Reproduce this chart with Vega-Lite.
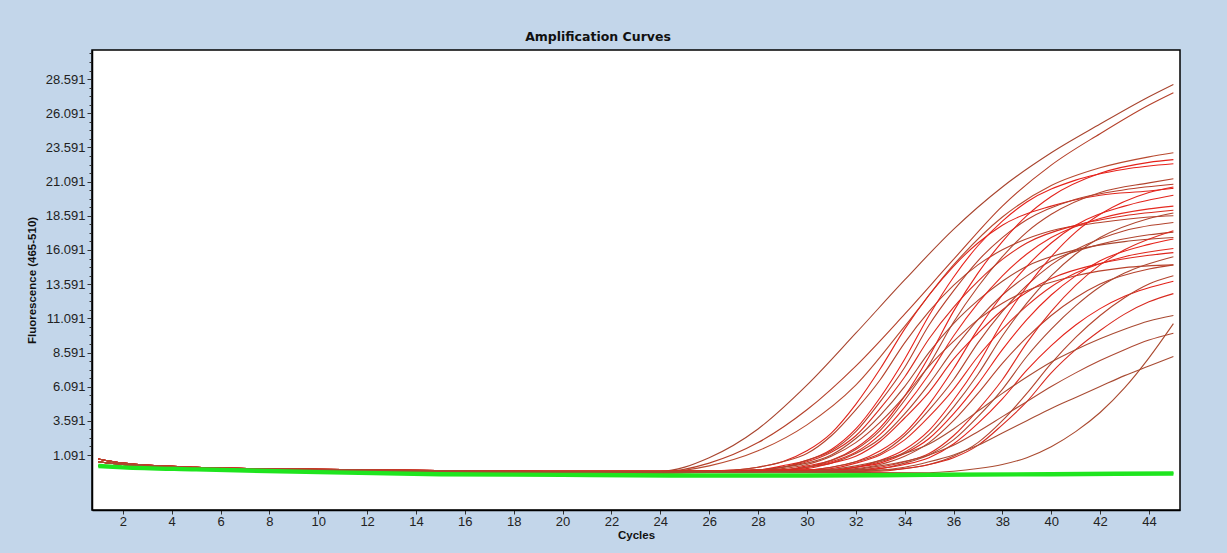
{
  "$schema": "https://vega.github.io/schema/vega-lite/v6.json",
  "width": 1088,
  "height": 460,
  "autosize": {"type": "none"},
  "padding": {"left": 92, "top": 50, "right": 47, "bottom": 43},
  "background": "#c3d6ea",
  "config": {
    "view": {"fill": "#ffffff", "stroke": "#000000", "strokeWidth": 1.5},
    "axis": {"labelFont": "Liberation Sans", "labelFontSize": 13, "labelColor": "#222222", "titleFont": "Liberation Sans", "titleFontWeight": "bold", "titleFontSize": 11.5, "titleColor": "#111111", "domainColor": "#000000", "tickColor": "#333333", "grid": false}
  },
  "title": {"text": "Amplification Curves", "font": "DejaVu Sans", "fontSize": 12.5, "fontWeight": "bold", "color": "#111111", "anchor": "middle", "offset": 7, "dx": -38},
  "datasets": {
    "pos": [
      {"s":"T1","c":1,"f":0.8},{"s":"T1","c":2,"f":0.5},{"s":"T1","c":5,"f":0.2},{"s":"T1","c":10,"f":0.05},{"s":"T1","c":15,"f":-0.05},{"s":"T1","c":20,"f":-0.1},{"s":"T1","c":24,"f":-0.1},{"s":"T1","c":26,"f":0.9},{"s":"T1","c":28,"f":3.0},{"s":"T1","c":30,"f":6.2},{"s":"T1","c":32,"f":10.0},{"s":"T1","c":34,"f":13.9},{"s":"T1","c":36,"f":17.6},{"s":"T1","c":38,"f":20.7},{"s":"T1","c":40,"f":23.2},{"s":"T1","c":42,"f":25.3},{"s":"T1","c":44,"f":27.3},{"s":"T1","c":45,"f":28.2},
      {"s":"T2","c":1,"f":0.6},{"s":"T2","c":2,"f":0.4},{"s":"T2","c":5,"f":0.15},{"s":"T2","c":10,"f":0},{"s":"T2","c":15,"f":-0.1},{"s":"T2","c":20,"f":-0.15},{"s":"T2","c":24,"f":-0.15},{"s":"T2","c":26,"f":0.5},{"s":"T2","c":28,"f":2.0},{"s":"T2","c":30,"f":4.4},{"s":"T2","c":32,"f":7.6},{"s":"T2","c":34,"f":11.4},{"s":"T2","c":36,"f":15.4},{"s":"T2","c":38,"f":19.3},{"s":"T2","c":40,"f":22.3},{"s":"T2","c":42,"f":24.6},{"s":"T2","c":44,"f":26.7},{"s":"T2","c":45,"f":27.6},
      {"s":"T3","c":1,"f":0.3},{"s":"T3","c":2,"f":0.25},{"s":"T3","c":5,"f":0.1},{"s":"T3","c":10,"f":-0.05},{"s":"T3","c":15,"f":-0.15},{"s":"T3","c":20,"f":-0.2},{"s":"T3","c":24,"f":-0.15},{"s":"T3","c":26,"f":0.3},{"s":"T3","c":28,"f":1.4},{"s":"T3","c":30,"f":3.3},{"s":"T3","c":32,"f":6.2},{"s":"T3","c":34,"f":10.5},{"s":"T3","c":36,"f":15.0},{"s":"T3","c":38,"f":18.5},{"s":"T3","c":40,"f":20.8},{"s":"T3","c":42,"f":22.1},{"s":"T3","c":44,"f":22.9},{"s":"T3","c":45,"f":23.2},
      {"s":"g1","c":1,"f":0.6},{"s":"g1","c":2,"f":0.4},{"s":"g1","c":5,"f":0.15},{"s":"g1","c":10,"f":0},{"s":"g1","c":15,"f":-0.1},{"s":"g1","c":20,"f":-0.15},{"s":"g1","c":24,"f":-0.15},{"s":"g1","c":27,"f":0.0},{"s":"g1","c":28,"f":0.2},{"s":"g1","c":29,"f":0.6},{"s":"g1","c":30,"f":1.4},{"s":"g1","c":31,"f":2.7},{"s":"g1","c":32,"f":4.8},{"s":"g1","c":33,"f":7.4},{"s":"g1","c":34,"f":10.3},{"s":"g1","c":35,"f":12.8},{"s":"g1","c":36,"f":14.9},{"s":"g1","c":37,"f":16.6},{"s":"g1","c":38,"f":17.9},{"s":"g1","c":40,"f":19.3},{"s":"g1","c":42,"f":20.1},{"s":"g1","c":44,"f":20.4},{"s":"g1","c":45,"f":20.6},
      {"s":"g2","c":1,"f":0.3},{"s":"g2","c":2,"f":0.25},{"s":"g2","c":5,"f":0.1},{"s":"g2","c":10,"f":-0.05},{"s":"g2","c":15,"f":-0.15},{"s":"g2","c":20,"f":-0.2},{"s":"g2","c":24,"f":-0.2},{"s":"g2","c":27,"f":0.0},{"s":"g2","c":28,"f":0.2},{"s":"g2","c":29,"f":0.6},{"s":"g2","c":30,"f":1.2},{"s":"g2","c":31,"f":2.5},{"s":"g2","c":32,"f":4.4},{"s":"g2","c":33,"f":6.6},{"s":"g2","c":34,"f":9.3},{"s":"g2","c":35,"f":11.6},{"s":"g2","c":36,"f":13.5},{"s":"g2","c":37,"f":15.0},{"s":"g2","c":38,"f":16.1},{"s":"g2","c":40,"f":17.5},{"s":"g2","c":42,"f":18.1},{"s":"g2","c":44,"f":18.5},{"s":"g2","c":45,"f":18.6},
      {"s":"g3","c":1,"f":0.8},{"s":"g3","c":2,"f":0.5},{"s":"g3","c":5,"f":0.2},{"s":"g3","c":10,"f":0.05},{"s":"g3","c":15,"f":-0.05},{"s":"g3","c":20,"f":-0.1},{"s":"g3","c":24,"f":-0.1},{"s":"g3","c":28,"f":0.0},{"s":"g3","c":29,"f":0.3},{"s":"g3","c":30,"f":0.7},{"s":"g3","c":31,"f":1.5},{"s":"g3","c":32,"f":3.0},{"s":"g3","c":33,"f":5.3},{"s":"g3","c":34,"f":8.1},{"s":"g3","c":35,"f":11.3},{"s":"g3","c":36,"f":14.1},{"s":"g3","c":37,"f":16.4},{"s":"g3","c":38,"f":18.2},{"s":"g3","c":39,"f":19.6},{"s":"g3","c":41,"f":21.2},{"s":"g3","c":43,"f":22.0},{"s":"g3","c":45,"f":22.4},
      {"s":"g4","c":1,"f":0.6},{"s":"g4","c":2,"f":0.4},{"s":"g4","c":5,"f":0.15},{"s":"g4","c":10,"f":0},{"s":"g4","c":15,"f":-0.1},{"s":"g4","c":20,"f":-0.15},{"s":"g4","c":24,"f":-0.15},{"s":"g4","c":28,"f":0.0},{"s":"g4","c":29,"f":0.2},{"s":"g4","c":30,"f":0.7},{"s":"g4","c":31,"f":1.4},{"s":"g4","c":32,"f":2.8},{"s":"g4","c":33,"f":5.0},{"s":"g4","c":34,"f":7.5},{"s":"g4","c":35,"f":10.6},{"s":"g4","c":36,"f":13.1},{"s":"g4","c":37,"f":15.3},{"s":"g4","c":38,"f":17.0},{"s":"g4","c":39,"f":18.3},{"s":"g4","c":41,"f":19.8},{"s":"g4","c":43,"f":20.5},{"s":"g4","c":45,"f":20.9},
      {"s":"g5","c":1,"f":0.3},{"s":"g5","c":2,"f":0.25},{"s":"g5","c":5,"f":0.1},{"s":"g5","c":10,"f":-0.05},{"s":"g5","c":15,"f":-0.15},{"s":"g5","c":20,"f":-0.2},{"s":"g5","c":24,"f":-0.2},{"s":"g5","c":28,"f":0.0},{"s":"g5","c":29,"f":0.2},{"s":"g5","c":30,"f":0.6},{"s":"g5","c":31,"f":1.3},{"s":"g5","c":32,"f":2.5},{"s":"g5","c":33,"f":4.5},{"s":"g5","c":34,"f":6.8},{"s":"g5","c":35,"f":9.6},{"s":"g5","c":36,"f":11.9},{"s":"g5","c":37,"f":13.8},{"s":"g5","c":38,"f":15.4},{"s":"g5","c":39,"f":16.6},{"s":"g5","c":41,"f":17.9},{"s":"g5","c":43,"f":18.6},{"s":"g5","c":45,"f":19.0},
      {"s":"g6","c":1,"f":0.8},{"s":"g6","c":2,"f":0.5},{"s":"g6","c":5,"f":0.2},{"s":"g6","c":10,"f":0.05},{"s":"g6","c":15,"f":-0.05},{"s":"g6","c":20,"f":-0.1},{"s":"g6","c":24,"f":-0.1},{"s":"g6","c":28,"f":0.0},{"s":"g6","c":29,"f":0.2},{"s":"g6","c":30,"f":0.5},{"s":"g6","c":31,"f":1.1},{"s":"g6","c":32,"f":2.3},{"s":"g6","c":33,"f":4.0},{"s":"g6","c":34,"f":6.1},{"s":"g6","c":35,"f":8.6},{"s":"g6","c":36,"f":10.7},{"s":"g6","c":37,"f":12.4},{"s":"g6","c":38,"f":13.8},{"s":"g6","c":39,"f":14.9},{"s":"g6","c":41,"f":16.1},{"s":"g6","c":43,"f":16.7},{"s":"g6","c":45,"f":17.0},
      {"s":"g7","c":1,"f":0.6},{"s":"g7","c":2,"f":0.4},{"s":"g7","c":5,"f":0.15},{"s":"g7","c":10,"f":0},{"s":"g7","c":15,"f":-0.1},{"s":"g7","c":20,"f":-0.15},{"s":"g7","c":24,"f":-0.15},{"s":"g7","c":29,"f":0.0},{"s":"g7","c":30,"f":0.3},{"s":"g7","c":31,"f":0.7},{"s":"g7","c":32,"f":1.6},{"s":"g7","c":33,"f":3.1},{"s":"g7","c":34,"f":5.4},{"s":"g7","c":35,"f":8.3},{"s":"g7","c":36,"f":11.6},{"s":"g7","c":37,"f":14.4},{"s":"g7","c":38,"f":16.7},{"s":"g7","c":39,"f":18.6},{"s":"g7","c":40,"f":20.0},{"s":"g7","c":42,"f":21.7},{"s":"g7","c":44,"f":22.5},{"s":"g7","c":45,"f":22.7},
      {"s":"g8","c":1,"f":0.3},{"s":"g8","c":2,"f":0.25},{"s":"g8","c":5,"f":0.1},{"s":"g8","c":10,"f":-0.05},{"s":"g8","c":15,"f":-0.15},{"s":"g8","c":20,"f":-0.2},{"s":"g8","c":24,"f":-0.2},{"s":"g8","c":29,"f":0.0},{"s":"g8","c":30,"f":0.2},{"s":"g8","c":31,"f":0.7},{"s":"g8","c":32,"f":1.5},{"s":"g8","c":33,"f":2.9},{"s":"g8","c":34,"f":5.1},{"s":"g8","c":35,"f":7.7},{"s":"g8","c":36,"f":10.8},{"s":"g8","c":37,"f":13.4},{"s":"g8","c":38,"f":15.6},{"s":"g8","c":39,"f":17.4},{"s":"g8","c":40,"f":18.7},{"s":"g8","c":42,"f":20.3},{"s":"g8","c":44,"f":21.0},{"s":"g8","c":45,"f":21.3},
      {"s":"g9","c":1,"f":0.8},{"s":"g9","c":2,"f":0.5},{"s":"g9","c":5,"f":0.2},{"s":"g9","c":10,"f":0.05},{"s":"g9","c":15,"f":-0.05},{"s":"g9","c":20,"f":-0.1},{"s":"g9","c":24,"f":-0.1},{"s":"g9","c":29,"f":0.0},{"s":"g9","c":30,"f":0.2},{"s":"g9","c":31,"f":0.6},{"s":"g9","c":32,"f":1.3},{"s":"g9","c":33,"f":2.6},{"s":"g9","c":34,"f":4.6},{"s":"g9","c":35,"f":7.0},{"s":"g9","c":36,"f":9.8},{"s":"g9","c":37,"f":12.2},{"s":"g9","c":38,"f":14.2},{"s":"g9","c":39,"f":15.8},{"s":"g9","c":40,"f":17.0},{"s":"g9","c":42,"f":18.4},{"s":"g9","c":44,"f":19.1},{"s":"g9","c":45,"f":19.3},
      {"s":"g10","c":1,"f":0.6},{"s":"g10","c":2,"f":0.4},{"s":"g10","c":5,"f":0.15},{"s":"g10","c":10,"f":0},{"s":"g10","c":15,"f":-0.1},{"s":"g10","c":20,"f":-0.15},{"s":"g10","c":24,"f":-0.15},{"s":"g10","c":29,"f":0.0},{"s":"g10","c":30,"f":0.2},{"s":"g10","c":31,"f":0.5},{"s":"g10","c":32,"f":1.2},{"s":"g10","c":33,"f":2.3},{"s":"g10","c":34,"f":4.1},{"s":"g10","c":35,"f":6.3},{"s":"g10","c":36,"f":8.8},{"s":"g10","c":37,"f":11.0},{"s":"g10","c":38,"f":12.8},{"s":"g10","c":39,"f":14.2},{"s":"g10","c":40,"f":15.3},{"s":"g10","c":42,"f":16.5},{"s":"g10","c":44,"f":17.2},{"s":"g10","c":45,"f":17.4},
      {"s":"g11","c":1,"f":0.3},{"s":"g11","c":2,"f":0.25},{"s":"g11","c":5,"f":0.1},{"s":"g11","c":10,"f":-0.05},{"s":"g11","c":15,"f":-0.15},{"s":"g11","c":20,"f":-0.2},{"s":"g11","c":24,"f":-0.2},{"s":"g11","c":29,"f":0.0},{"s":"g11","c":30,"f":0.1},{"s":"g11","c":31,"f":0.5},{"s":"g11","c":32,"f":1.0},{"s":"g11","c":33,"f":2.1},{"s":"g11","c":34,"f":3.8},{"s":"g11","c":35,"f":5.7},{"s":"g11","c":36,"f":8.1},{"s":"g11","c":37,"f":10.0},{"s":"g11","c":38,"f":11.7},{"s":"g11","c":39,"f":13.0},{"s":"g11","c":40,"f":14.0},{"s":"g11","c":42,"f":15.1},{"s":"g11","c":44,"f":15.7},{"s":"g11","c":45,"f":15.9},
      {"s":"g12","c":1,"f":0.8},{"s":"g12","c":2,"f":0.5},{"s":"g12","c":5,"f":0.2},{"s":"g12","c":10,"f":0.05},{"s":"g12","c":15,"f":-0.05},{"s":"g12","c":20,"f":-0.1},{"s":"g12","c":24,"f":-0.1},{"s":"g12","c":28,"f":0.0},{"s":"g12","c":29,"f":0.1},{"s":"g12","c":30,"f":0.4},{"s":"g12","c":31,"f":1.0},{"s":"g12","c":32,"f":2.0},{"s":"g12","c":33,"f":3.5},{"s":"g12","c":34,"f":5.4},{"s":"g12","c":35,"f":7.6},{"s":"g12","c":36,"f":9.4},{"s":"g12","c":37,"f":11.0},{"s":"g12","c":38,"f":12.2},{"s":"g12","c":39,"f":13.1},{"s":"g12","c":41,"f":14.2},{"s":"g12","c":43,"f":14.8},{"s":"g12","c":45,"f":15.0},
      {"s":"h1","c":1,"f":0.6},{"s":"h1","c":2,"f":0.4},{"s":"h1","c":5,"f":0.15},{"s":"h1","c":10,"f":0},{"s":"h1","c":15,"f":-0.1},{"s":"h1","c":20,"f":-0.15},{"s":"h1","c":24,"f":-0.15},{"s":"h1","c":30,"f":0.0},{"s":"h1","c":31,"f":0.2},{"s":"h1","c":32,"f":0.6},{"s":"h1","c":33,"f":1.4},{"s":"h1","c":34,"f":2.7},{"s":"h1","c":35,"f":4.8},{"s":"h1","c":36,"f":7.4},{"s":"h1","c":37,"f":10.3},{"s":"h1","c":38,"f":12.8},{"s":"h1","c":39,"f":14.9},{"s":"h1","c":40,"f":16.6},{"s":"h1","c":41,"f":17.9},{"s":"h1","c":43,"f":19.3},{"s":"h1","c":45,"f":20.1},
      {"s":"h2","c":1,"f":0.3},{"s":"h2","c":2,"f":0.25},{"s":"h2","c":5,"f":0.1},{"s":"h2","c":10,"f":-0.05},{"s":"h2","c":15,"f":-0.15},{"s":"h2","c":20,"f":-0.2},{"s":"h2","c":24,"f":-0.2},{"s":"h2","c":30,"f":0.0},{"s":"h2","c":31,"f":0.2},{"s":"h2","c":32,"f":0.6},{"s":"h2","c":33,"f":1.2},{"s":"h2","c":34,"f":2.5},{"s":"h2","c":35,"f":4.4},{"s":"h2","c":36,"f":6.6},{"s":"h2","c":37,"f":9.3},{"s":"h2","c":38,"f":11.6},{"s":"h2","c":39,"f":13.5},{"s":"h2","c":40,"f":15.0},{"s":"h2","c":41,"f":16.1},{"s":"h2","c":43,"f":17.5},{"s":"h2","c":45,"f":18.1},
      {"s":"h3","c":1,"f":0.8},{"s":"h3","c":2,"f":0.5},{"s":"h3","c":5,"f":0.2},{"s":"h3","c":10,"f":0.05},{"s":"h3","c":15,"f":-0.05},{"s":"h3","c":20,"f":-0.1},{"s":"h3","c":24,"f":-0.1},{"s":"h3","c":30,"f":0.0},{"s":"h3","c":31,"f":0.1},{"s":"h3","c":32,"f":0.5},{"s":"h3","c":33,"f":1.1},{"s":"h3","c":34,"f":2.2},{"s":"h3","c":35,"f":3.9},{"s":"h3","c":36,"f":5.9},{"s":"h3","c":37,"f":8.3},{"s":"h3","c":38,"f":10.3},{"s":"h3","c":39,"f":12.0},{"s":"h3","c":40,"f":13.4},{"s":"h3","c":41,"f":14.4},{"s":"h3","c":43,"f":15.6},{"s":"h3","c":45,"f":16.2},
      {"s":"h4","c":1,"f":0.6},{"s":"h4","c":2,"f":0.4},{"s":"h4","c":5,"f":0.15},{"s":"h4","c":10,"f":0},{"s":"h4","c":15,"f":-0.1},{"s":"h4","c":20,"f":-0.15},{"s":"h4","c":24,"f":-0.15},{"s":"h4","c":31,"f":0.0},{"s":"h4","c":32,"f":0.2},{"s":"h4","c":33,"f":0.6},{"s":"h4","c":34,"f":1.3},{"s":"h4","c":35,"f":2.6},{"s":"h4","c":36,"f":4.6},{"s":"h4","c":37,"f":7.0},{"s":"h4","c":38,"f":9.8},{"s":"h4","c":39,"f":12.2},{"s":"h4","c":40,"f":14.2},{"s":"h4","c":41,"f":15.8},{"s":"h4","c":42,"f":17.0},{"s":"h4","c":44,"f":18.4},{"s":"h4","c":45,"f":18.8},
      {"s":"h5","c":1,"f":0.3},{"s":"h5","c":2,"f":0.25},{"s":"h5","c":5,"f":0.1},{"s":"h5","c":10,"f":-0.05},{"s":"h5","c":15,"f":-0.15},{"s":"h5","c":20,"f":-0.2},{"s":"h5","c":24,"f":-0.2},{"s":"h5","c":31,"f":0.0},{"s":"h5","c":32,"f":0.2},{"s":"h5","c":33,"f":0.5},{"s":"h5","c":34,"f":1.2},{"s":"h5","c":35,"f":2.3},{"s":"h5","c":36,"f":4.1},{"s":"h5","c":37,"f":6.3},{"s":"h5","c":38,"f":8.8},{"s":"h5","c":39,"f":11.0},{"s":"h5","c":40,"f":12.8},{"s":"h5","c":41,"f":14.2},{"s":"h5","c":42,"f":15.3},{"s":"h5","c":44,"f":16.5},{"s":"h5","c":45,"f":16.9},
      {"s":"h6","c":1,"f":0.8},{"s":"h6","c":2,"f":0.5},{"s":"h6","c":5,"f":0.2},{"s":"h6","c":10,"f":0.05},{"s":"h6","c":15,"f":-0.05},{"s":"h6","c":20,"f":-0.1},{"s":"h6","c":24,"f":-0.1},{"s":"h6","c":31,"f":0.0},{"s":"h6","c":32,"f":0.1},{"s":"h6","c":33,"f":0.4},{"s":"h6","c":34,"f":1.0},{"s":"h6","c":35,"f":2.0},{"s":"h6","c":36,"f":3.6},{"s":"h6","c":37,"f":5.6},{"s":"h6","c":38,"f":7.8},{"s":"h6","c":39,"f":9.7},{"s":"h6","c":40,"f":11.3},{"s":"h6","c":41,"f":12.6},{"s":"h6","c":42,"f":13.6},{"s":"h6","c":44,"f":14.7},{"s":"h6","c":45,"f":15.0},
      {"s":"h7","c":1,"f":0.6},{"s":"h7","c":2,"f":0.4},{"s":"h7","c":5,"f":0.15},{"s":"h7","c":10,"f":0},{"s":"h7","c":15,"f":-0.1},{"s":"h7","c":20,"f":-0.15},{"s":"h7","c":24,"f":-0.15},{"s":"h7","c":32,"f":0.0},{"s":"h7","c":33,"f":0.2},{"s":"h7","c":34,"f":0.6},{"s":"h7","c":35,"f":1.2},{"s":"h7","c":36,"f":2.5},{"s":"h7","c":37,"f":4.4},{"s":"h7","c":38,"f":6.6},{"s":"h7","c":39,"f":9.3},{"s":"h7","c":40,"f":11.6},{"s":"h7","c":41,"f":13.5},{"s":"h7","c":42,"f":15.0},{"s":"h7","c":43,"f":16.1},{"s":"h7","c":45,"f":17.5},
      {"s":"h8","c":1,"f":0.3},{"s":"h8","c":2,"f":0.25},{"s":"h8","c":5,"f":0.1},{"s":"h8","c":10,"f":-0.05},{"s":"h8","c":15,"f":-0.15},{"s":"h8","c":20,"f":-0.2},{"s":"h8","c":24,"f":-0.2},{"s":"h8","c":32,"f":0.0},{"s":"h8","c":33,"f":0.1},{"s":"h8","c":34,"f":0.5},{"s":"h8","c":35,"f":1.1},{"s":"h8","c":36,"f":2.2},{"s":"h8","c":37,"f":3.9},{"s":"h8","c":38,"f":5.9},{"s":"h8","c":39,"f":8.3},{"s":"h8","c":40,"f":10.3},{"s":"h8","c":41,"f":12.0},{"s":"h8","c":42,"f":13.4},{"s":"h8","c":43,"f":14.4},{"s":"h8","c":45,"f":15.6},
      {"s":"h9","c":1,"f":0.8},{"s":"h9","c":2,"f":0.5},{"s":"h9","c":5,"f":0.2},{"s":"h9","c":10,"f":0.05},{"s":"h9","c":15,"f":-0.05},{"s":"h9","c":20,"f":-0.1},{"s":"h9","c":24,"f":-0.1},{"s":"h9","c":32,"f":-0.1},{"s":"h9","c":33,"f":0.1},{"s":"h9","c":34,"f":0.4},{"s":"h9","c":35,"f":0.9},{"s":"h9","c":36,"f":1.9},{"s":"h9","c":37,"f":3.4},{"s":"h9","c":38,"f":5.2},{"s":"h9","c":39,"f":7.3},{"s":"h9","c":40,"f":9.1},{"s":"h9","c":41,"f":10.6},{"s":"h9","c":42,"f":11.8},{"s":"h9","c":43,"f":12.7},{"s":"h9","c":45,"f":13.8},
      {"s":"h10","c":1,"f":0.6},{"s":"h10","c":2,"f":0.4},{"s":"h10","c":5,"f":0.15},{"s":"h10","c":10,"f":0},{"s":"h10","c":15,"f":-0.1},{"s":"h10","c":20,"f":-0.15},{"s":"h10","c":24,"f":-0.15},{"s":"h10","c":33,"f":0.0},{"s":"h10","c":34,"f":0.1},{"s":"h10","c":35,"f":0.4},{"s":"h10","c":36,"f":1.0},{"s":"h10","c":37,"f":2.0},{"s":"h10","c":38,"f":3.6},{"s":"h10","c":39,"f":5.6},{"s":"h10","c":40,"f":7.8},{"s":"h10","c":41,"f":9.7},{"s":"h10","c":42,"f":11.3},{"s":"h10","c":43,"f":12.6},{"s":"h10","c":44,"f":13.6},{"s":"h10","c":45,"f":14.2},
      {"s":"h11","c":1,"f":0.3},{"s":"h11","c":2,"f":0.25},{"s":"h11","c":5,"f":0.1},{"s":"h11","c":10,"f":-0.05},{"s":"h11","c":15,"f":-0.15},{"s":"h11","c":20,"f":-0.2},{"s":"h11","c":24,"f":-0.2},{"s":"h11","c":33,"f":-0.1},{"s":"h11","c":34,"f":0.1},{"s":"h11","c":35,"f":0.4},{"s":"h11","c":36,"f":0.9},{"s":"h11","c":37,"f":1.8},{"s":"h11","c":38,"f":3.3},{"s":"h11","c":39,"f":5.0},{"s":"h11","c":40,"f":7.1},{"s":"h11","c":41,"f":8.8},{"s":"h11","c":42,"f":10.2},{"s":"h11","c":43,"f":11.4},{"s":"h11","c":44,"f":12.3},{"s":"h11","c":45,"f":12.9},
      {"s":"h12","c":1,"f":0.8},{"s":"h12","c":2,"f":0.5},{"s":"h12","c":5,"f":0.2},{"s":"h12","c":10,"f":0.05},{"s":"h12","c":15,"f":-0.05},{"s":"h12","c":20,"f":-0.1},{"s":"h12","c":24,"f":-0.1},{"s":"h12","c":31,"f":0.0},{"s":"h12","c":32,"f":0.2},{"s":"h12","c":33,"f":0.7},{"s":"h12","c":34,"f":1.5},{"s":"h12","c":35,"f":2.9},{"s":"h12","c":36,"f":5.1},{"s":"h12","c":37,"f":7.7},{"s":"h12","c":38,"f":10.8},{"s":"h12","c":39,"f":13.4},{"s":"h12","c":40,"f":15.6},{"s":"h12","c":41,"f":17.4},{"s":"h12","c":42,"f":18.7},{"s":"h12","c":44,"f":20.3},{"s":"h12","c":45,"f":20.7},
      {"s":"A","c":1,"f":0.6},{"s":"A","c":2,"f":0.4},{"s":"A","c":5,"f":0.15},{"s":"A","c":10,"f":0},{"s":"A","c":15,"f":-0.1},{"s":"A","c":20,"f":-0.15},{"s":"A","c":24,"f":-0.15},{"s":"A","c":30,"f":-0.1},{"s":"A","c":32,"f":0.3},{"s":"A","c":34,"f":1.2},{"s":"A","c":35,"f":1.9},{"s":"A","c":36,"f":3.0},{"s":"A","c":37,"f":4.3},{"s":"A","c":38,"f":5.6},{"s":"A","c":39,"f":6.8},{"s":"A","c":40,"f":7.9},{"s":"A","c":41,"f":8.8},{"s":"A","c":42,"f":9.6},{"s":"A","c":43,"f":10.3},{"s":"A","c":44,"f":10.9},{"s":"A","c":45,"f":11.3},
      {"s":"B","c":1,"f":0.3},{"s":"B","c":2,"f":0.25},{"s":"B","c":5,"f":0.1},{"s":"B","c":10,"f":-0.05},{"s":"B","c":15,"f":-0.15},{"s":"B","c":20,"f":-0.2},{"s":"B","c":24,"f":-0.2},{"s":"B","c":31,"f":-0.1},{"s":"B","c":33,"f":0.3},{"s":"B","c":35,"f":1.1},{"s":"B","c":36,"f":1.8},{"s":"B","c":37,"f":2.8},{"s":"B","c":38,"f":3.9},{"s":"B","c":39,"f":5.0},{"s":"B","c":40,"f":6.1},{"s":"B","c":41,"f":7.1},{"s":"B","c":42,"f":8.0},{"s":"B","c":43,"f":8.8},{"s":"B","c":44,"f":9.5},{"s":"B","c":45,"f":10.0},
      {"s":"C","c":1,"f":0.8},{"s":"C","c":2,"f":0.5},{"s":"C","c":5,"f":0.2},{"s":"C","c":10,"f":0.05},{"s":"C","c":15,"f":-0.05},{"s":"C","c":20,"f":-0.1},{"s":"C","c":24,"f":-0.1},{"s":"C","c":32,"f":-0.1},{"s":"C","c":34,"f":0.2},{"s":"C","c":35,"f":0.6},{"s":"C","c":36,"f":1.1},{"s":"C","c":37,"f":1.8},{"s":"C","c":38,"f":2.7},{"s":"C","c":39,"f":3.6},{"s":"C","c":40,"f":4.5},{"s":"C","c":41,"f":5.3},{"s":"C","c":42,"f":6.1},{"s":"C","c":43,"f":6.9},{"s":"C","c":44,"f":7.6},{"s":"C","c":45,"f":8.3},
      {"s":"L6","c":1,"f":0.6},{"s":"L6","c":2,"f":0.4},{"s":"L6","c":5,"f":0.15},{"s":"L6","c":10,"f":0},{"s":"L6","c":15,"f":-0.1},{"s":"L6","c":20,"f":-0.15},{"s":"L6","c":24,"f":-0.15},{"s":"L6","c":35,"f":-0.2},{"s":"L6","c":36,"f":-0.1},{"s":"L6","c":37,"f":0.1},{"s":"L6","c":38,"f":0.4},{"s":"L6","c":39,"f":0.9},{"s":"L6","c":40,"f":1.7},{"s":"L6","c":41,"f":2.8},{"s":"L6","c":42,"f":4.2},{"s":"L6","c":43,"f":6.0},{"s":"L6","c":44,"f":8.2},{"s":"L6","c":45,"f":10.7}
    ],
    "neg": [
      {"s":"N1","c":1,"f":0.3},{"s":"N1","c":2,"f":0.2},{"s":"N1","c":5,"f":0.05},{"s":"N1","c":10,"f":-0.15},{"s":"N1","c":15,"f":-0.3},{"s":"N1","c":20,"f":-0.35},{"s":"N1","c":25,"f":-0.4},{"s":"N1","c":30,"f":-0.4},{"s":"N1","c":35,"f":-0.35},{"s":"N1","c":40,"f":-0.3},{"s":"N1","c":45,"f":-0.25},
      {"s":"N2","c":1,"f":0.22},{"s":"N2","c":2,"f":0.12},{"s":"N2","c":5,"f":-0.03},{"s":"N2","c":10,"f":-0.23},{"s":"N2","c":15,"f":-0.38},{"s":"N2","c":20,"f":-0.43},{"s":"N2","c":25,"f":-0.48},{"s":"N2","c":30,"f":-0.48},{"s":"N2","c":35,"f":-0.43},{"s":"N2","c":40,"f":-0.38},{"s":"N2","c":45,"f":-0.33},
      {"s":"N3","c":1,"f":0.36},{"s":"N3","c":2,"f":0.26},{"s":"N3","c":5,"f":0.11},{"s":"N3","c":10,"f":-0.09},{"s":"N3","c":15,"f":-0.24},{"s":"N3","c":20,"f":-0.29},{"s":"N3","c":25,"f":-0.34},{"s":"N3","c":30,"f":-0.34},{"s":"N3","c":35,"f":-0.29},{"s":"N3","c":40,"f":-0.24},{"s":"N3","c":45,"f":-0.19}
    ]
  },
  "encoding": {
    "x": {"field": "c", "type": "quantitative", "scale": {"domain": [0.74, 45.27], "nice": false, "zero": false},
      "axis": {"title": "Cycles", "values": [2,4,6,8,10,12,14,16,18,20,22,24,26,28,30,32,34,36,38,40,42,44], "tickSize": 4, "labelPadding": 1, "titlePadding": 1, "domainWidth": 1.5}},
    "y": {"field": "f", "type": "quantitative", "scale": {"domain": [-2.93, 30.72], "nice": false, "zero": false},
      "axis": {"title": "Fluorescence (465-510)", "titlePadding": 8,
        "values": [1.091,1.716,2.341,2.966,3.591,4.216,4.841,5.466,6.091,6.716,7.341,7.966,8.591,9.216,9.841,10.466,11.091,11.716,12.341,12.966,13.591,14.216,14.841,15.466,16.091,16.716,17.341,17.966,18.591,19.216,19.841,20.466,21.091,21.716,22.341,22.966,23.591,24.216,24.841,25.466,26.091,26.716,27.341,27.966,28.591,29.216,29.841,30.466],
        "labelExpr": "abs((datum.value-1.091)/2.5 - round((datum.value-1.091)/2.5)) < 0.01 ? format(datum.value, '.3f') : ''",
        "tickSize": {"condition": {"test": "abs((datum.value-1.091)/2.5 - round((datum.value-1.091)/2.5)) < 0.01", "value": 5}, "value": 3},
        "labelPadding": 2, "domainWidth": 1.5}}
  },
  "layer": [
    {
      "data": {"name": "pos"},
      "mark": {"type": "line", "interpolate": "monotone", "strokeWidth": 1.1, "clip": true},
      "encoding": {
        "detail": {"field": "s"},
        "color": {"field": "s", "type": "nominal", "legend": null,
          "scale": {"domain": ["T1","T2","T3","g1","g2","g3","g4","g5","g6","g7","g8","g9","g10","g11","g12","h1","h2","h3","h4","h5","h6","h7","h8","h9","h10","h11","h12","A","B","C","L6"],
            "range": ["#a8442e","#b5402a","#b84a30","#e0251c","#b4432d","#e8201a","#b63f2b","#d92a1e","#a94630","#e3221b","#b3442e","#e52a20","#b0452f","#dd261d","#b8422c","#e2241c","#b2432d","#e02a1f","#ae4630","#e6231b","#b6412c","#dc2b20","#ad4731","#e4221a","#b4442e","#d8291f","#e3241c","#a94a32","#ad4832","#a84b33","#aa4a30"]}}
      }
    },
    {
      "data": {"name": "neg"},
      "mark": {"type": "line", "interpolate": "monotone", "strokeWidth": 2.5, "color": "#1fe51f", "clip": true},
      "encoding": {"detail": {"field": "s"}}
    }
  ]
}
